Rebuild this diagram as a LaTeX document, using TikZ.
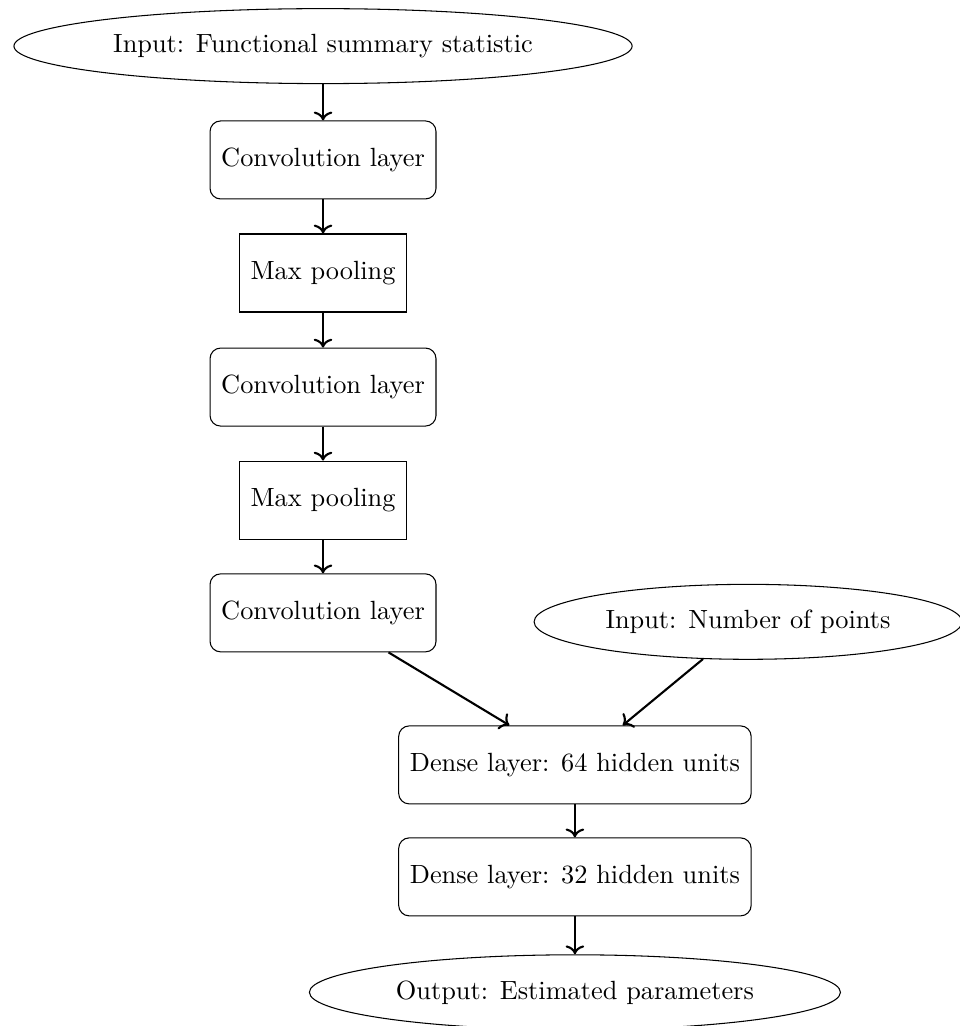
\documentclass[tikz,border=0pt]{standalone}
\usetikzlibrary{shapes.geometric,arrows.meta}
\begin{document}
\begin{tikzpicture}[x=1pt,y=1pt,
  inout/.style={ellipse, draw, minimum height=1cm, inner sep=3.33pt},
  roundbox/.style={rectangle, rounded corners=4pt, draw, minimum height=29.6pt, inner xsep=4.25pt},
  sharpbox/.style={rectangle, draw, minimum height=29.6pt, inner xsep=4.25pt},
  conn/.style={->, thick}]
\useasboundingbox (0,0) rectangle (364,-389.4);
\node[inout] (inp1) at (122.6,-17.5) {Input: Functional summary statistic};
\node[roundbox] (conv1) at (122.6,-60.7) {Convolution layer};
\node[sharpbox] (mp1) at (122.6,-103.6) {Max pooling};
\node[roundbox] (conv2) at (122.6,-146.9) {Convolution layer};
\node[sharpbox] (mp2) at (122.6,-189.8) {Max pooling};
\node[roundbox] (conv3) at (122.6,-232.6) {Convolution layer};
\node[inout] (inp2) at (283.9,-236) {Input: Number of points};
\node[roundbox] (d64) at (218.2,-290.3) {Dense layer: 64 hidden units};
\node[roundbox] (d32) at (218.2,-332.8) {Dense layer: 32 hidden units};
\node[inout] (out) at (218.2,-376.6) {Output: Estimated parameters};
\draw[conn] (inp1) -- (conv1);
\draw[conn] (conv1) -- (mp1);
\draw[conn] (mp1) -- (conv2);
\draw[conn] (conv2) -- (mp2);
\draw[conn] (mp2) -- (conv3);
\draw[conn] (conv3) -- (d64);
\draw[conn] (inp2) -- (d64);
\draw[conn] (d64) -- (d32);
\draw[conn] (d32) -- (out);
\end{tikzpicture}
\end{document}
